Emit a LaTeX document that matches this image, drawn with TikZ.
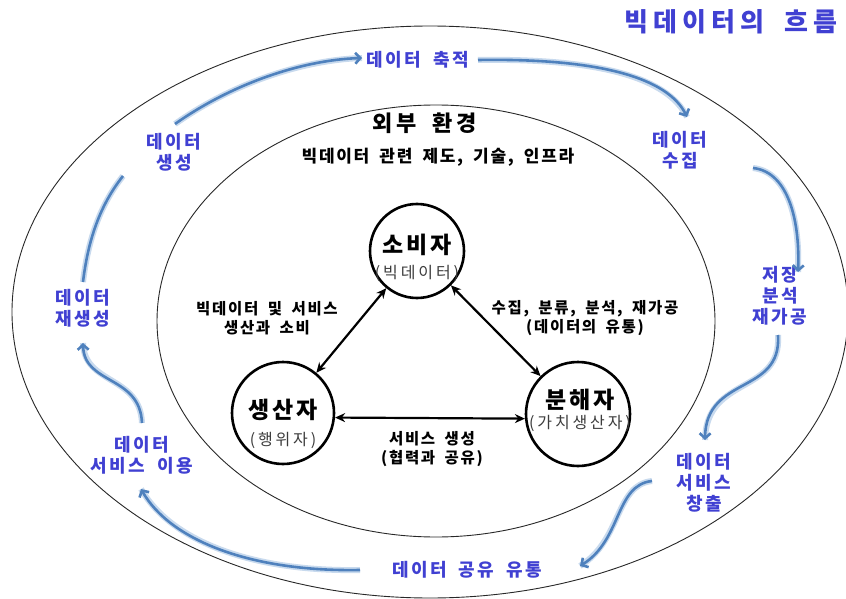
\documentclass[tikz,border=0pt]{standalone}
\usepackage{fontspec}
\setmainfont{Noto Sans CJK KR}[WordSpace=1.8]
\usetikzlibrary{arrows.meta}
\definecolor{lblblue}{RGB}{64,64,210}
\definecolor{arrblue}{RGB}{79,129,189}
\definecolor{glowc}{RGB}{200,218,238}
\definecolor{ringc}{RGB}{40,40,40}
\definecolor{subc}{RGB}{60,60,60}
\begin{document}
\begin{tikzpicture}[x=1pt,y=-1pt,
  ring/.style={draw=ringc, line width=0.9pt},
  actor/.style={circle, draw=black, line width=2.6pt, inner sep=0pt},
  bigtxt/.style={font=\fontsize{23}{26}\selectfont\bfseries\addfontfeatures{LetterSpace=14}, inner sep=0pt},
  subtxt/.style={text=subc, font=\fontsize{16}{18}\selectfont\addfontfeatures{LetterSpace=18}, inner sep=0pt},
  midtxt/.style={align=center, font=\fontsize{15.5}{18.5}\selectfont\bfseries\addfontfeatures{LetterSpace=11}, inner sep=0pt},
  bl/.style={align=center, text=lblblue, font=\fontsize{18}{21}\selectfont\bfseries\addfontfeatures{LetterSpace=14}, inner sep=0pt},
  biarrow/.style={line width=2.2pt, {Stealth[length=10pt,width=9pt]}-{Stealth[length=10pt,width=9pt]}},
  flow/.style={draw=arrblue, line width=2.6pt, -{Straight Barb[length=5pt,width=11pt]},
    preaction={draw=glowc, line width=6pt, -}},
  flowline/.style={draw=arrblue, line width=2.6pt, preaction={draw=glowc, line width=6pt}}
]
\useasboundingbox (0,0) rectangle (846,599);
\fill[white] (0,0) rectangle (846,599);

% rings
\draw[ring] (430,312) ellipse [x radius=418pt, y radius=286pt];
\draw[ring] (436,321) ellipse [x radius=279pt, y radius=216pt];

% title
\node[text=lblblue, font=\fontsize{26}{30}\selectfont\bfseries\addfontfeatures{LetterSpace=20}, inner sep=0pt] (title) at (731,22) {빅데이터의 흐름};

% inner environment
\node[font=\fontsize{22}{26}\selectfont\bfseries\addfontfeatures{LetterSpace=17}, inner sep=0pt] (env) at (425,123) {외부 환경};
\node[font=\fontsize{17}{20}\selectfont\bfseries\addfontfeatures{LetterSpace=10}, inner sep=0pt] (envsub) at (438,157) {빅데이터 관련 제도, 기술, 인프라};

% actors
\node[actor, minimum size=94pt] (sobi) at (417,251) {};
\node[bigtxt] (sobit) at (417,245) {소비자};
\node[subtxt] (sobis) at (417,273) {(빅데이터)};

\node[actor, minimum size=102pt] (saeng) at (283,413) {};
\node[bigtxt] (saengt) at (283,410) {생산자};
\node[subtxt] (saengs) at (283,440) {(행위자)};

\node[actor, minimum size=104pt] (bun) at (578,414) {};
\node[bigtxt] (bunt) at (580,400) {분해자};
\node[subtxt] (buns) at (580,423) {(가치생산자)};

\draw[biarrow] (sobi) -- (saeng);
\draw[biarrow] (sobi) -- (bun);
\draw[biarrow] (saeng.-5) -- (bun.185);

\node[midtxt] (l1) at (267,318) {빅데이터 및 서비스\\생산과 소비};
\node[midtxt] (l2) at (585,318) {수집, 분류, 분석, 재가공\\(데이터의 유통)};
\node[midtxt] (l3) at (432,449) {서비스 생성\\(협력과 공유)};

% flow labels
\node[bl] (gen) at (174,152) {데이터\\생성};
\node[bl] (acc) at (418,60) {데이터 축적};
\node[bl] (col) at (680,150) {데이터\\수집};
\node[bl] (sto) at (780,296) {저장\\분석\\재가공};
\node[bl] (cre) at (704,483) {데이터\\서비스\\창출};
\node[bl] (sha) at (467,570) {데이터 공유 유통};
\node[bl] (use) at (142,455) {데이터\\서비스 이용};
\node[bl] (reg) at (83,308) {데이터\\재생성};

% flow arrow end points
\coordinate (a1s) at (175,124); \coordinate (a1e) at (362,58);
\coordinate (a2s) at (478,60);  \coordinate (a2e) at (687,117);
\coordinate (a3s) at (753,168); \coordinate (a3e) at (798,272);
\coordinate (a4s) at (778,335); \coordinate (a4e) at (705,440);
\coordinate (a5s) at (652,481); \coordinate (a5e) at (580,566);
\coordinate (a6s) at (360,570); \coordinate (a6e) at (141,489);
\coordinate (a7s) at (142,423); \coordinate (a7e) at (83,343);
\coordinate (a8s) at (83,282);  \coordinate (a8e) at (123,176);

\draw[flow] (a1s) .. controls (230,85) and (300,60) .. (a1e);
\draw[flow] (a2s) .. controls (600,58) and (668,78) .. (a2e);
\draw[flow] (a3s) .. controls (790,172) and (800,225) .. (a3e);
\draw[flow] (a4s) .. controls (782,395) and (706,375) .. (a4e);
\draw[flow] (a5s) .. controls (615,485) and (622,540) .. (a5e);
\draw[flow] (a6s) .. controls (250,572) and (170,540) .. (a6e);
\draw[flow] (a7s) .. controls (140,375) and (84,385) .. (a7e);
\draw[flowline] (a8s) .. controls (88,240) and (100,205) .. (a8e);
\end{tikzpicture}
\end{document}
